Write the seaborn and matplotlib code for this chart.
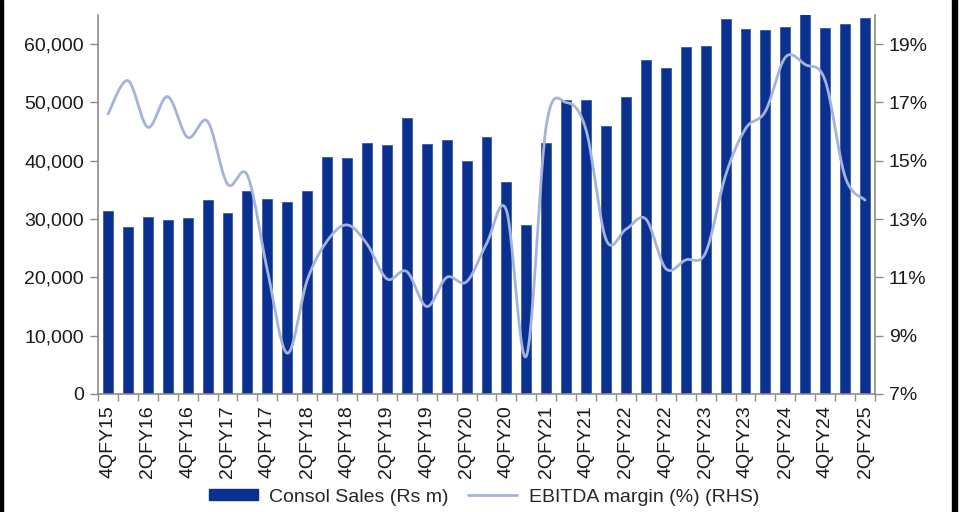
import numpy as np
import pandas as pd
import matplotlib
matplotlib.use("Agg")
import matplotlib.pyplot as plt
from matplotlib.patches import Rectangle, Patch
from matplotlib.lines import Line2D
from matplotlib.ticker import FuncFormatter, FixedLocator
import seaborn as sns

quarters = ["4QFY15", "1QFY16", "2QFY16", "3QFY16", "4QFY16", "1QFY17", "2QFY17", "3QFY17",
            "4QFY17", "1QFY18", "2QFY18", "3QFY18", "4QFY18", "1QFY19", "2QFY19", "3QFY19",
            "4QFY19", "1QFY20", "2QFY20", "3QFY20", "4QFY20", "1QFY21", "2QFY21", "3QFY21",
            "4QFY21", "1QFY22", "2QFY22", "3QFY22", "4QFY22", "1QFY23", "2QFY23", "3QFY23",
            "4QFY23", "1QFY24", "2QFY24", "3QFY24", "4QFY24", "1QFY25", "2QFY25"]
sales = [31300, 28700, 30300, 29800, 30100, 33300, 31000, 34800, 33400, 33000,
         34900, 40700, 40500, 43000, 42700, 47300, 42900, 43500, 40000, 44100,
         36300, 28900, 43000, 50400, 50500, 46000, 50900, 57200, 55900, 59500,
         59700, 64300, 62600, 62500, 62900, 65200, 62700, 63500, 64500]
margin = [16.6, 17.75, 16.15, 17.2, 15.8, 16.35, 14.2, 14.5, 11.25, 8.4,
          10.9, 12.25, 12.8, 12.15, 10.95, 11.2, 10.0, 11.0, 10.85, 12.15,
          13.3, 8.3, 16.2, 17.0, 16.05, 12.3, 12.65, 13.0, 11.3, 11.6,
          11.85, 14.5, 16.1, 16.7, 18.55, 18.3, 17.75, 14.45, 13.65]
left_ticks = [0, 10000, 20000, 30000, 40000, 50000, 60000]
right_ticks = [7, 9, 11, 13, 15, 17, 19]

bar_color = "#0B3190"
line_color = "#A3B3DB"
grey = "#8C8C8C"

sns.set_theme(style="white")
plt.rcParams["font.family"] = ["Liberation Sans", "DejaVu Sans"]

fig = plt.figure(figsize=(9.6, 5.12), dpi=100)
ax = fig.add_axes([98 / 960, 1 - 394 / 512, (875 - 98) / 960, (394 - 15) / 512])

df = pd.DataFrame({"quarter": quarters, "sales": sales})
sns.barplot(data=df, x="quarter", y="sales", color=bar_color, saturation=1,
            width=0.5, ax=ax, edgecolor="#3A5AA8", linewidth=0.6)
ax.set_xlim(-0.5, len(quarters) - 0.5)
ax.set_ylim(0, 65000)
ax.set_xlabel("")
ax.set_ylabel("")

n = len(quarters)
ax.set_xticks(range(0, n, 2))
ax.set_xticklabels(quarters[::2], rotation=90, fontsize=14, color="#1a1a1a")
ax.xaxis.set_minor_locator(FixedLocator([i + 0.5 for i in range(-1, n)]))
ax.tick_params(axis="x", which="major", length=0, pad=8)
ax.tick_params(axis="x", which="minor", length=5, width=1, color=grey, direction="out", bottom=True)
ax.set_yticks(left_ticks)
ax.yaxis.set_major_formatter(FuncFormatter(lambda v, p: f"{int(v):,}"))
ax.tick_params(axis="y", length=6, width=1, color=grey, direction="out", left=True,
               labelsize=14, labelcolor="#1a1a1a", pad=4)
for s in ["top", "right"]:
    ax.spines[s].set_visible(False)
for s in ["left", "bottom"]:
    ax.spines[s].set_color(grey)
    ax.spines[s].set_linewidth(1.2)

# secondary axis with smoothed line (Excel-style Bezier smoothing through points)
ax2 = ax.twinx()
x = np.arange(n, dtype=float)
y = np.array(margin, dtype=float)
xs, ys = [], []
t = np.linspace(0, 1, 25)
for i in range(n - 1):
    p0 = np.array([x[i], y[i]])
    p3 = np.array([x[i + 1], y[i + 1]])
    pm = np.array([x[i - 1], y[i - 1]]) if i > 0 else p0
    pp = np.array([x[i + 2], y[i + 2]]) if i + 2 < n else p3
    c1 = p0 + (p3 - pm) / 6
    c2 = p3 - (pp - p0) / 6
    b = ((1 - t) ** 3)[:, None] * p0 + (3 * (1 - t) ** 2 * t)[:, None] * c1 \
        + (3 * (1 - t) * t ** 2)[:, None] * c2 + (t ** 3)[:, None] * p3
    xs.extend(b[:, 0]); ys.extend(b[:, 1])
smooth = pd.DataFrame({"x": xs, "y": ys})
sns.lineplot(data=smooth, x="x", y="y", sort=False, color=line_color, linewidth=2.0, ax=ax2)
ax2.set_ylim(7, 20)
ax2.set_xlim(-0.5, n - 0.5)
ax2.set_yticks(right_ticks)
ax2.yaxis.set_major_formatter(FuncFormatter(lambda v, p: f"{int(round(v))}%"))
ax2.tick_params(axis="y", length=6, width=1, color=grey, direction="out", right=True,
                labelsize=14, labelcolor="#1a1a1a", pad=4)
ax2.set_xlabel("")
ax2.set_ylabel("")
for s in ["top", "left", "bottom"]:
    ax2.spines[s].set_visible(False)
ax2.spines["right"].set_color(grey)
ax2.spines["right"].set_linewidth(1.2)

handles = [Patch(facecolor=bar_color, edgecolor=bar_color),
           Line2D([0], [0], color=line_color, linewidth=2.0)]
fig.legend(handles, ["Consol Sales (Rs m)", "EBITDA margin (%) (RHS)"],
           loc="center", bbox_to_anchor=(484 / 960, 1 - 497 / 512), ncol=2, frameon=False,
           fontsize=14, handlelength=2.5, handleheight=0.45, columnspacing=1.0,
           handletextpad=0.6)

# dark frame strips at left and right edges
fig.patches.append(Rectangle((0, 0), 3 / 960, 1, transform=fig.transFigure,
                             color="black", zorder=10))
fig.patches.append(Rectangle((952 / 960, 0), 5 / 960, 1, transform=fig.transFigure,
                             color="black", zorder=10))

fig.savefig("out.png", dpi=100)
